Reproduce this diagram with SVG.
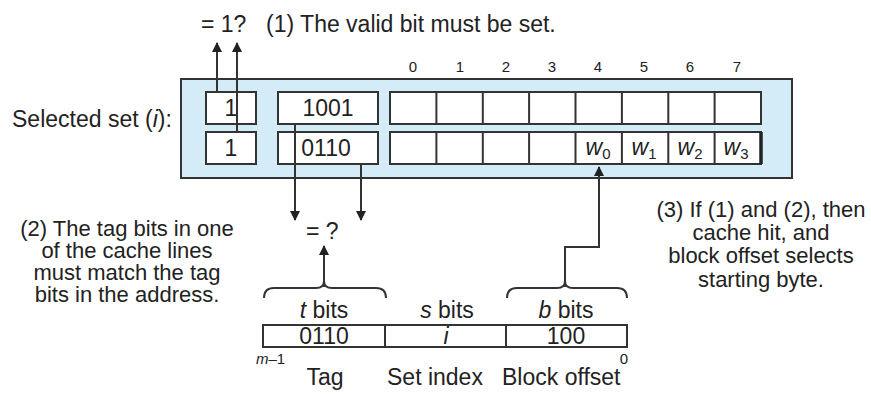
<svg xmlns="http://www.w3.org/2000/svg" width="871" height="394" viewBox="0 0 871 394">
<style>
text{font-family:"Liberation Sans",Arial,sans-serif;fill:#222;}
.t{font-size:23px;}
.n{font-size:22px;text-anchor:middle;}
.c{text-anchor:middle;}
.s{font-size:15px;}
.cell{fill:#fff;stroke:#333;stroke-width:2;}
.ln{fill:none;stroke:#333;stroke-width:2;}
.ar{fill:none;stroke:#333;stroke-width:2;marker-end:url(#ah);}
</style>
<defs>
<marker id="ah" markerWidth="10" markerHeight="12" refX="9" refY="5" orient="auto" markerUnits="userSpaceOnUse" viewBox="0 0 10 10">
<path d="M0,0 L10,5 L0,10 z" fill="#222"/>
</marker>
</defs>
<rect width="871" height="394" fill="#fff"/>

<g id="top-labels">
<text class="t" x="201" y="32">= 1?</text>
<text class="t" x="266" y="32">(1) The valid bit must be set.</text>
</g>

<g id="column-numbers">
<text class="c s" x="413" y="72">0</text>
<text class="c s" x="460" y="72">1</text>
<text class="c s" x="506" y="72">2</text>
<text class="c s" x="552" y="72">3</text>
<text class="c s" x="598" y="72">4</text>
<text class="c s" x="644" y="72">5</text>
<text class="c s" x="690" y="72">6</text>
<text class="c s" x="737" y="72">7</text>
</g>

<g id="selected-set-label">
<text class="t" x="12" y="127">Selected set (<tspan font-style="italic">i</tspan>):</text>
</g>

<g id="selected-set">
<rect x="181" y="79" width="611" height="99" fill="#d4ebf8" stroke="#333" stroke-width="2"/>
<g id="line1">
<rect class="cell" x="206" y="92" width="50" height="32"/>
<text class="t c" x="231" y="116">1</text>
<rect class="cell" x="278" y="92" width="100" height="32"/>
<text class="t c" x="328" y="116">1001</text>
<rect class="cell" x="390" y="92" width="371" height="32"/>
<path class="ln" d="M436.4,92V124M482.8,92V124M529.1,92V124M575.5,92V124M621.9,92V124M668.3,92V124M714.6,92V124"/>
</g>
<g id="line2">
<rect class="cell" x="206" y="132" width="50" height="32"/>
<text class="t c" x="231" y="156">1</text>
<rect class="cell" x="278" y="132" width="100" height="32"/>
<text class="t c" x="326" y="156">0110</text>
<rect class="cell" x="390" y="132" width="371" height="32"/>
<path class="ln" d="M436.4,132V164M482.8,132V164M529.1,132V164M575.5,132V164M621.9,132V164M668.3,132V164M714.6,132V164"/>
<path d="M761,132V164" stroke="#222" stroke-width="3.5"/>
<text class="t c" x="598" y="155"><tspan font-style="italic">w</tspan><tspan font-size="15" dy="4">0</tspan></text>
<text class="t c" x="644" y="155"><tspan font-style="italic">w</tspan><tspan font-size="15" dy="4">1</tspan></text>
<text class="t c" x="690" y="155"><tspan font-style="italic">w</tspan><tspan font-size="15" dy="4">2</tspan></text>
<text class="t c" x="736" y="155"><tspan font-style="italic">w</tspan><tspan font-size="15" dy="4">3</tspan></text>
</g>
</g>

<g id="connectors">
<path class="ar" d="M217,92V43"/>
<path class="ar" d="M237,132V43"/>
<path class="ar" d="M295,124V220"/>
<path class="ar" d="M361,164V220"/>
<path class="ar" d="M324,287V246"/>
<path class="ar" d="M565,287V247H599V167"/>
</g>

<g id="compare-tag">
<text class="t" x="306" y="239">= ?</text>
</g>

<g id="note2">
<text class="n" x="127" y="236">(2) The tag bits in one</text>
<text class="n" x="127" y="258">of the cache lines</text>
<text class="n" x="127" y="280">must match the tag</text>
<text class="n" x="127" y="302">bits in the address.</text>
</g>

<g id="note3">
<text class="n" x="761" y="217">(3) If (1) and (2), then</text>
<text class="n" x="761" y="240">cache hit, and</text>
<text class="n" x="761" y="263">block offset selects</text>
<text class="n" x="761" y="287">starting byte.</text>
</g>

<g id="braces">
<path class="ln" d="M264,298Q264,288 274,288H316Q324,288 324,281Q324,288 332,288H376Q386,288 386,298"/>
<path class="ln" d="M507,298Q507,288 517,288H557Q565,288 565,281Q565,288 573,288H617Q627,288 627,298"/>
</g>

<g id="address">
<text class="t c" x="324" y="318"><tspan font-style="italic">t</tspan> bits</text>
<text class="t c" x="447" y="318"><tspan font-style="italic">s</tspan> bits</text>
<text class="t c" x="566" y="318"><tspan font-style="italic">b</tspan> bits</text>
<rect x="263" y="325" width="364" height="22" fill="#fff" stroke="#333" stroke-width="2"/>
<path class="ln" d="M385,325V347M506,325V347"/>
<text class="t c" x="324" y="344">0110</text>
<text class="t c" x="446" y="344" font-style="italic">i</text>
<text class="t c" x="566" y="344">100</text>
<text class="s" x="256" y="364"><tspan font-style="italic">m</tspan>–1</text>
<text class="s c" x="624" y="364">0</text>
<text class="t c" x="325" y="385">Tag</text>
<text class="t" x="387" y="385">Set index</text>
<text class="t" x="502" y="385">Block offset</text>
</g>
</svg>
